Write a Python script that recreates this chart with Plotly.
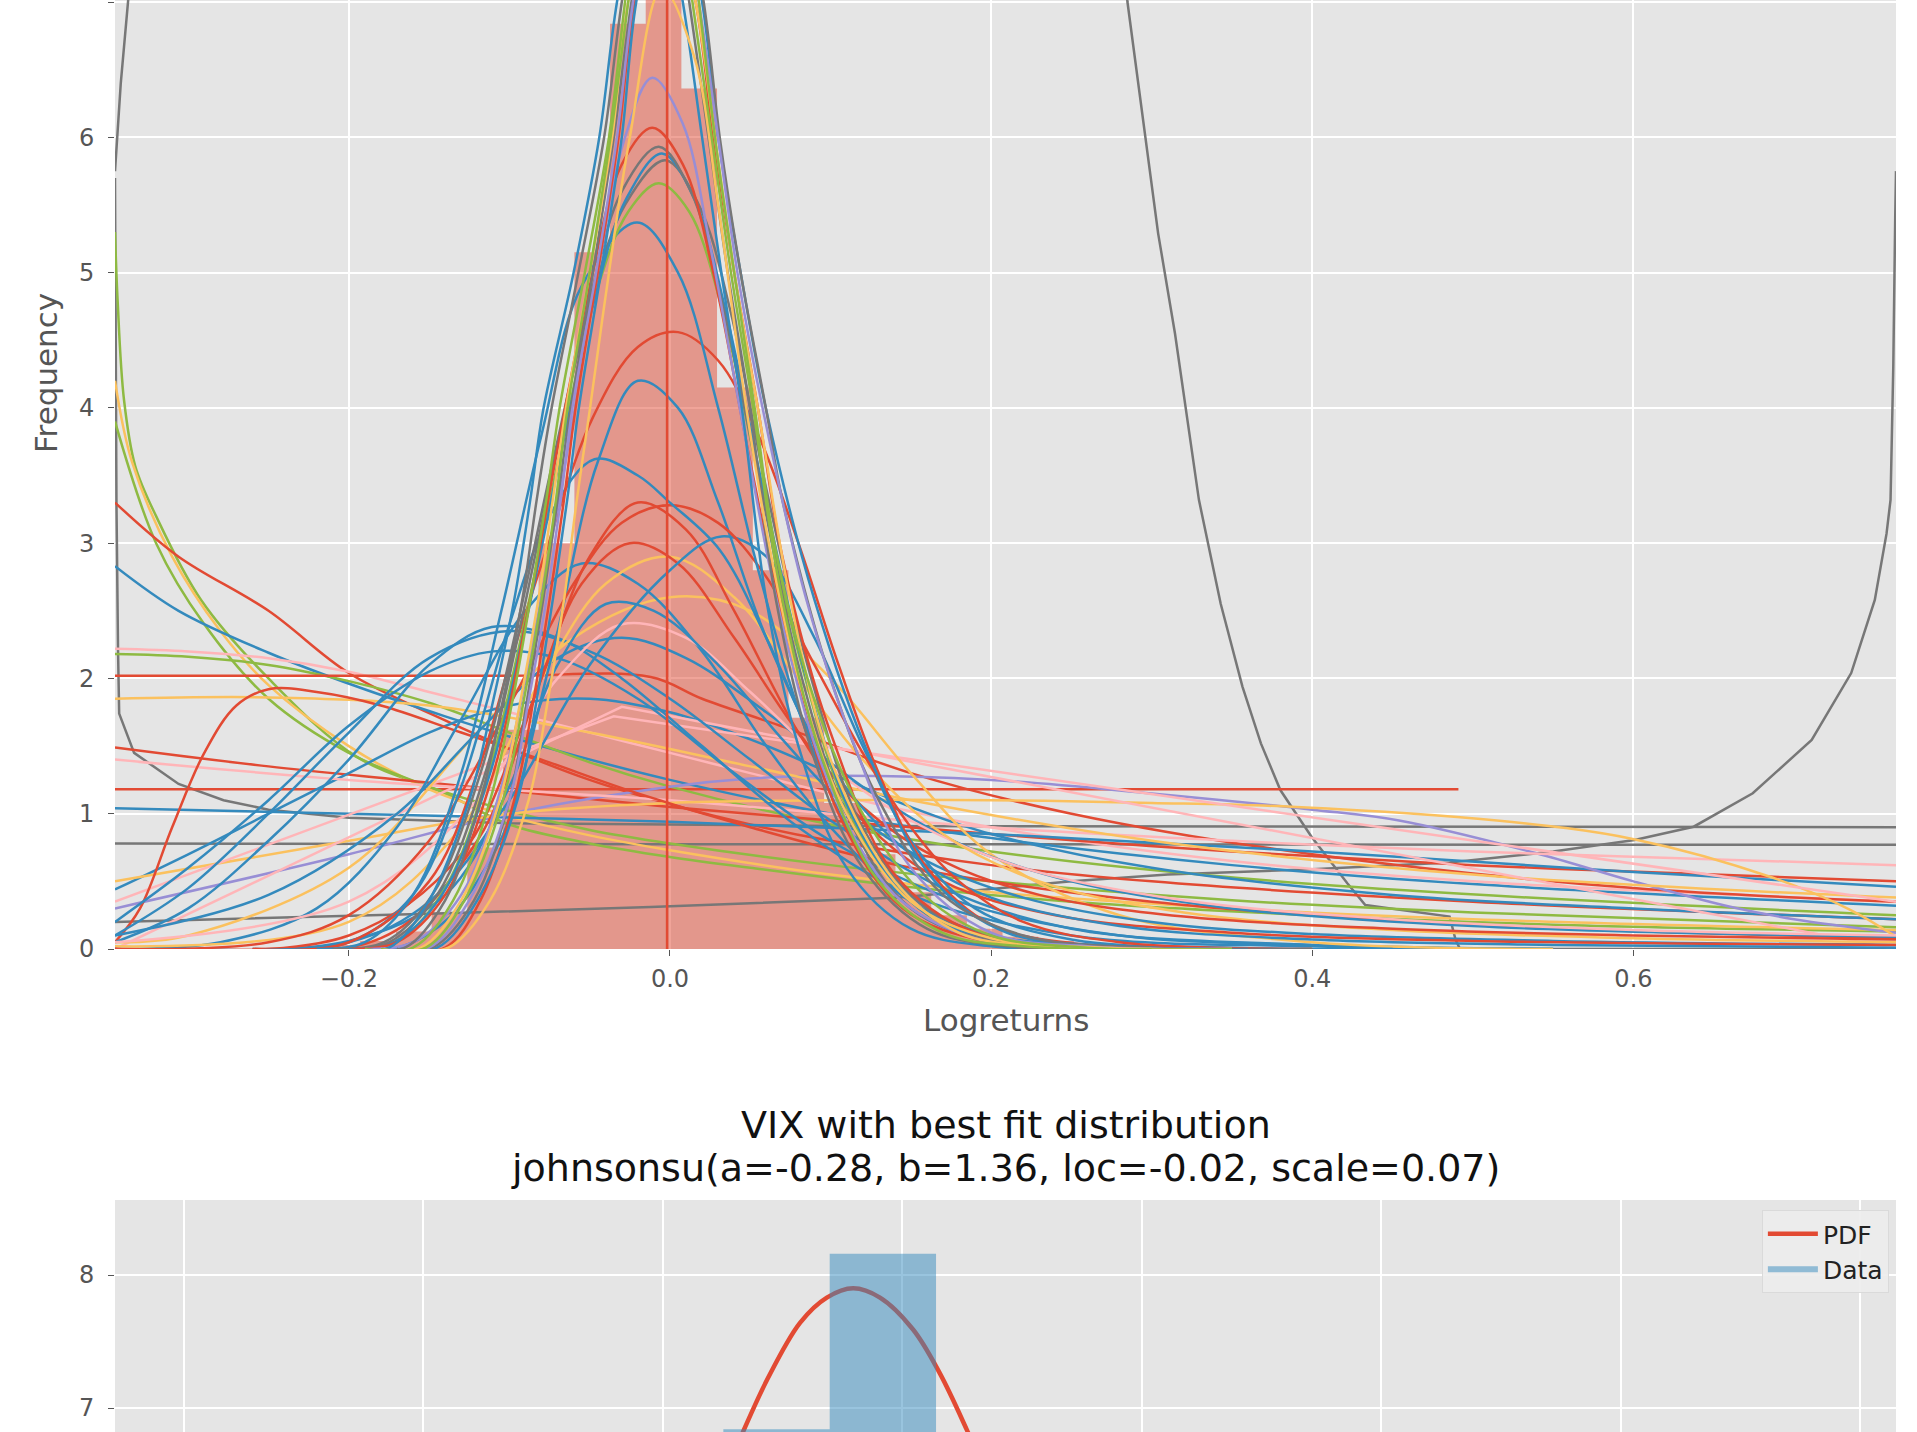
import plotly.graph_objects as go

# ggplot-style colour cycle
RED = "#E24A33"
BLUE = "#348ABD"
PURPLE = "#988ED5"
GRAY = "#777777"
YELLOW = "#FBC15E"
GREEN = "#8EBA42"
PINK = "#FFB5B8"

# ---------------- histogram of VIX daily log returns (density, 50 bins) ----------------
bin_edges = [
    -0.3484, -0.3262, -0.3040, -0.2817, -0.2595, -0.2373, -0.2151, -0.1929, -0.1706, -0.1484,
    -0.1262, -0.1040, -0.0818, -0.0595, -0.0373, -0.0151, 0.0071, 0.0293, 0.0516, 0.0738,
    0.0960, 0.1182, 0.1404, 0.1627, 0.1849, 0.2071, 0.2293, 0.2515, 0.2738, 0.2960,
    0.3182, 0.3404, 0.3626, 0.3849, 0.4071, 0.4293, 0.4515, 0.4737, 0.4960, 0.5182,
    0.5404, 0.5626, 0.5848, 0.6071, 0.6293, 0.6515, 0.6737, 0.6959, 0.7182, 0.7404,
    0.7626,
]
vix_density = [
    0.006, 0.0, 0.006, 0.006, 0.013, 0.02, 0.03, 0.06, 0.13, 0.27,
    0.75, 1.62, 3.0, 5.15, 6.84, 8.16, 6.36, 4.15, 2.8, 1.71,
    1.08, 0.7, 0.42, 0.25, 0.15, 0.09, 0.06, 0.04, 0.03, 0.02,
    0.013, 0.01, 0.006, 0.006, 0.0, 0.006, 0.0, 0.0, 0.006, 0.0,
    0.0, 0.0, 0.006, 0.0, 0.0, 0.0, 0.0, 0.0, 0.0, 0.006,
]

# ---------------- candidate distribution PDFs (x, density) ----------------
# tall, narrow fits (peaks above the visible range)
fit_b1 = [(-0.20, 0.0), (-0.175, 0.01), (-0.15, 0.36), (-0.125, 1.1), (-0.11, 1.84), (-0.097, 2.58),
          (-0.087, 3.32), (-0.079, 3.98), (-0.06, 5.0), (-0.044, 6.0), (-0.033, 7.0), (-0.012, 8.3),
          (0.008, 7.0), (0.02, 6.0), (0.032, 5.0), (0.045, 3.98), (0.06, 2.58), (0.08, 1.5),
          (0.11, 0.6), (0.15, 0.15), (0.2, 0.02), (0.3, 0.0)]
fit_b2 = [(-0.19, 0.0), (-0.165, 0.01), (-0.14, 0.36), (-0.118, 1.1), (-0.104, 1.84), (-0.092, 2.58),
          (-0.083, 3.32), (-0.074, 3.98), (-0.057, 5.0), (-0.041, 6.0), (-0.03, 7.0), (-0.008, 8.6),
          (0.012, 7.0), (0.024, 6.0), (0.036, 5.0), (0.05, 3.98), (0.066, 2.58), (0.09, 1.4),
          (0.12, 0.6), (0.16, 0.15), (0.21, 0.02), (0.3, 0.0)]
fit_b3 = [(-0.19, 0.0), (-0.16, 0.01), (-0.135, 0.36), (-0.112, 1.1), (-0.098, 1.84), (-0.087, 2.58),
          (-0.077, 3.32), (-0.069, 3.98), (-0.053, 5.0), (-0.038, 6.0), (-0.028, 7.0), (-0.008, 8.9),
          (0.014, 7.0), (0.026, 6.0), (0.038, 5.0), (0.052, 3.98), (0.068, 2.7), (0.095, 1.4),
          (0.13, 0.5), (0.17, 0.12), (0.22, 0.02), (0.3, 0.0)]
fit_b4 = [(-0.18, 0.0), (-0.155, 0.01), (-0.13, 0.36), (-0.106, 1.1), (-0.093, 1.84), (-0.082, 2.58),
          (-0.073, 3.32), (-0.065, 3.98), (-0.05, 5.0), (-0.036, 6.0), (-0.026, 7.0), (-0.004, 8.0),
          (0.016, 7.0), (0.028, 6.0), (0.04, 5.0), (0.055, 3.98), (0.075, 2.58), (0.1, 1.4),
          (0.14, 0.5), (0.18, 0.12), (0.23, 0.02), (0.3, 0.0)]
fit_b5 = [(-0.18, 0.0), (-0.15, 0.01), (-0.125, 0.36), (-0.1, 1.1), (-0.088, 1.84), (-0.077, 2.58),
          (-0.068, 3.32), (-0.061, 3.98), (-0.046, 5.0), (-0.033, 6.0), (-0.023, 7.0), (-0.002, 8.4),
          (0.018, 7.0), (0.03, 6.0), (0.042, 5.0), (0.058, 3.98), (0.085, 2.58), (0.115, 1.5),
          (0.15, 0.6), (0.2, 0.12), (0.26, 0.02), (0.35, 0.0)]
fit_b6 = [(-0.17, 0.0), (-0.145, 0.01), (-0.12, 0.36), (-0.095, 1.1), (-0.083, 1.84), (-0.073, 2.58),
          (-0.064, 3.32), (-0.057, 3.98), (-0.043, 5.0), (-0.03, 6.0), (-0.021, 7.0), (0.0, 8.1),
          (0.02, 7.0), (0.03, 6.0), (0.044, 5.0), (0.06, 3.98), (0.09, 2.58), (0.125, 1.4),
          (0.165, 0.5), (0.21, 0.12), (0.28, 0.02), (0.36, 0.0)]
fit_b7 = [(-0.16, 0.0), (-0.138, 0.01), (-0.112, 0.36), (-0.088, 1.1), (-0.076, 1.84), (-0.066, 2.58),
          (-0.058, 3.32), (-0.05, 3.98), (-0.038, 5.0), (-0.025, 6.0), (-0.005, 7.1), (0.015, 6.6),
          (0.03, 5.5), (0.045, 4.2), (0.06, 3.1), (0.08, 2.0), (0.11, 1.0), (0.15, 0.35),
          (0.2, 0.08), (0.27, 0.01), (0.35, 0.0)]
fit_b8 = [(-0.17, 0.0), (-0.14, 0.01), (-0.118, 0.36), (-0.097, 1.1), (-0.085, 1.84), (-0.075, 2.58),
          (-0.066, 3.32), (-0.059, 3.98), (-0.045, 5.0), (-0.032, 6.0), (-0.022, 7.0), (-0.003, 7.9),
          (0.016, 7.0), (0.027, 6.0), (0.04, 5.0), (0.055, 3.98), (0.07, 2.9), (0.1, 1.6),
          (0.14, 0.55), (0.19, 0.12), (0.26, 0.02), (0.35, 0.0)]
fit_b9 = [(-0.17, 0.0), (-0.148, 0.01), (-0.122, 0.36), (-0.1, 1.1), (-0.089, 1.84), (-0.079, 2.58),
          (-0.07, 3.32), (-0.062, 3.98), (-0.048, 5.0), (-0.035, 6.0), (-0.024, 7.0), (-0.003, 8.6),
          (0.021, 7.0), (0.031, 6.0), (0.044, 5.0), (0.06, 3.98), (0.07, 3.32), (0.1, 2.0),
          (0.13, 1.1), (0.17, 0.4), (0.22, 0.1), (0.3, 0.01), (0.4, 0.0)]
fit_b10 = [(-0.18, 0.0), (-0.152, 0.01), (-0.128, 0.36), (-0.104, 1.1), (-0.091, 1.84), (-0.08, 2.58),
           (-0.071, 3.32), (-0.064, 3.98), (-0.05, 5.0), (-0.037, 6.0), (-0.026, 7.0), (-0.004, 9.0),
           (0.018, 7.0), (0.028, 6.0), (0.04, 5.0), (0.053, 3.98), (0.065, 3.0), (0.09, 1.84),
           (0.12, 1.0), (0.16, 0.38), (0.2, 0.1), (0.26, 0.01), (0.35, 0.0)]

# medium fits with visible peaks
fit_m1 = [(-0.19, 0.0), (-0.16, 0.05), (-0.13, 0.4), (-0.105, 1.2), (-0.085, 2.3), (-0.065, 3.6),
          (-0.045, 5.0), (-0.028, 6.0), (-0.011, 6.44), (0.008, 6.1), (0.025, 5.2), (0.045, 3.9),
          (0.07, 2.4), (0.1, 1.2), (0.14, 0.4), (0.19, 0.08), (0.26, 0.01), (0.35, 0.0)]
fit_m2 = [(-0.2, 0.0), (-0.17, 0.05), (-0.14, 0.4), (-0.11, 1.3), (-0.09, 2.4), (-0.07, 3.7),
          (-0.05, 4.9), (-0.03, 5.8), (-0.011, 6.07), (0.008, 5.8), (0.027, 5.0), (0.05, 3.6),
          (0.075, 2.2), (0.105, 1.0), (0.145, 0.3), (0.2, 0.05), (0.3, 0.0)]
fit_m3 = [(-0.2, 0.0), (-0.175, 0.05), (-0.145, 0.4), (-0.115, 1.3), (-0.093, 2.4), (-0.072, 3.6),
          (-0.05, 4.8), (-0.03, 5.6), (-0.007, 5.93), (0.013, 5.6), (0.032, 4.8), (0.055, 3.5),
          (0.08, 2.1), (0.11, 1.0), (0.15, 0.3), (0.21, 0.04), (0.3, 0.0)]
fit_m4 = [(-0.2, 0.0), (-0.172, 0.05), (-0.142, 0.4), (-0.112, 1.3), (-0.09, 2.4), (-0.069, 3.6),
          (-0.047, 4.8), (-0.027, 5.55), (-0.005, 5.88), (0.015, 5.55), (0.035, 4.7), (0.058, 3.4),
          (0.085, 2.0), (0.115, 0.95), (0.155, 0.3), (0.21, 0.04), (0.3, 0.0)]
fit_m5 = [(-0.21, 0.0), (-0.178, 0.05), (-0.148, 0.4), (-0.118, 1.3), (-0.095, 2.4), (-0.073, 3.6),
          (-0.05, 4.75), (-0.028, 5.5), (-0.003, 5.83), (0.018, 5.5), (0.038, 4.7), (0.06, 3.4),
          (0.088, 2.0), (0.12, 0.9), (0.16, 0.3), (0.22, 0.04), (0.3, 0.0)]
fit_m6 = [(-0.2, 0.0), (-0.17, 0.06), (-0.14, 0.45), (-0.112, 1.35), (-0.09, 2.45), (-0.068, 3.7),
          (-0.046, 4.85), (-0.026, 5.45), (-0.007, 5.66), (0.012, 5.45), (0.032, 4.75), (0.055, 3.5),
          (0.082, 2.1), (0.112, 1.0), (0.15, 0.35), (0.2, 0.06), (0.3, 0.0)]
fit_m7 = [(-0.22, 0.0), (-0.19, 0.05), (-0.16, 0.4), (-0.13, 1.3), (-0.105, 2.5), (-0.08, 3.8),
          (-0.055, 4.9), (-0.0205, 5.37), (0.005, 5.0), (0.03, 4.0), (0.055, 2.8), (0.085, 1.6),
          (0.12, 0.7), (0.16, 0.22), (0.22, 0.03), (0.3, 0.0)]
fit_m8 = [(-0.26, 0.0), (-0.2, 0.05), (-0.15, 0.5), (-0.12, 1.3), (-0.1, 2.1), (-0.077, 2.95),
          (-0.048, 3.93), (-0.02, 4.45), (0.005, 4.56), (0.03, 4.35), (0.055, 3.8), (0.08, 3.0),
          (0.105, 2.1), (0.13, 1.3), (0.16, 0.6), (0.2, 0.18), (0.26, 0.03), (0.35, 0.0)]
fit_m9 = [(-0.26, 0.0), (-0.2, 0.05), (-0.16, 0.4), (-0.13, 1.2), (-0.1, 2.4), (-0.075, 3.2),
          (-0.047, 3.62), (-0.02, 3.5), (0.0, 3.3), (0.031, 2.95), (0.06, 2.3), (0.09, 1.5),
          (0.12, 0.8), (0.16, 0.3), (0.2, 0.1), (0.26, 0.02), (0.35, 0.0)]
fit_m10 = [(-0.3456, 0.0), (-0.25, 0.05), (-0.2, 0.25), (-0.15, 0.8), (-0.1, 1.8), (-0.06, 2.7),
           (-0.03, 3.15), (0.0, 3.28), (0.03, 3.15), (0.06, 2.75), (0.09, 2.1), (0.12, 1.45),
           (0.15, 0.9), (0.18, 0.5), (0.22, 0.2), (0.28, 0.05), (0.4, 0.0)]
fit_m11 = [(-0.3, 0.0), (-0.2, 0.05), (-0.15, 0.35), (-0.1, 1.1), (-0.05, 2.1), (0.0, 2.8),
           (0.032, 3.05), (0.06, 2.9), (0.09, 2.3), (0.12, 1.5), (0.15, 0.8), (0.19, 0.3),
           (0.25, 0.07), (0.35, 0.01), (0.45, 0.0)]
fit_m12 = [(-0.3456, 0.0), (-0.28, 0.05), (-0.22, 0.3), (-0.17, 0.9), (-0.13, 1.7), (-0.09, 2.5),
           (-0.055, 2.85), (-0.02, 2.7), (0.02, 2.2), (0.06, 1.5), (0.1, 0.9), (0.15, 0.35),
           (0.2, 0.1), (0.28, 0.02), (0.4, 0.0)]
fit_m13 = [(-0.3456, 0.05), (-0.3, 0.1), (-0.2, 0.6), (-0.12, 1.6), (-0.06, 2.3), (0.0, 2.6),
           (0.05, 2.5), (0.1, 2.0), (0.15, 1.3), (0.2, 0.7), (0.28, 0.25), (0.4, 0.05), (0.55, 0.0)]
fit_m14 = [(-0.3456, 0.05), (-0.3, 0.3), (-0.25, 0.8), (-0.2, 1.4), (-0.15, 2.1), (-0.111, 2.38),
           (-0.07, 2.3), (-0.03, 2.0), (0.02, 1.5), (0.08, 0.9), (0.15, 0.4), (0.25, 0.1),
           (0.4, 0.02), (0.55, 0.0)]
fit_m15 = [(-0.3456, 0.1), (-0.3, 0.45), (-0.25, 1.0), (-0.2, 1.6), (-0.15, 2.15), (-0.1, 2.35),
           (-0.05, 2.2), (0.0, 1.85), (0.05, 1.4), (0.1, 0.95), (0.17, 0.45), (0.25, 0.15),
           (0.4, 0.03), (0.55, 0.0)]
fit_m16 = [(-0.3456, 0.2), (-0.3, 0.6), (-0.25, 1.1), (-0.2, 1.65), (-0.15, 2.05), (-0.11, 2.2),
           (-0.07, 2.15), (-0.02, 1.85), (0.04, 1.3), (0.1, 0.8), (0.18, 0.35), (0.28, 0.1),
           (0.4, 0.03), (0.55, 0.0)]
fit_m17 = [(-0.3456, 0.05), (-0.33, 0.3), (-0.31, 0.9), (-0.29, 1.45), (-0.27, 1.8), (-0.25, 1.92),
           (-0.22, 1.9), (-0.18, 1.8), (-0.13, 1.6), (-0.08, 1.4), (-0.02, 1.15), (0.05, 0.9),
           (0.15, 0.6), (0.3, 0.35), (0.5, 0.18), (0.7635, 0.08)]

# heavy right tails
fit_h1 = [(-0.3456, 0.0), (-0.2, 0.06), (-0.14, 0.4), (-0.1, 1.2), (-0.07, 2.1), (-0.04, 2.55),
          (-0.01, 2.5), (0.03, 2.1), (0.07, 1.55), (0.11, 1.05), (0.16, 0.65), (0.22, 0.38),
          (0.3, 0.2), (0.4, 0.11), (0.55, 0.06), (0.7635, 0.03)]
fit_h2 = [(-0.3456, 0.0), (-0.16, 0.05), (-0.11, 0.7), (-0.075, 2.1), (-0.045, 3.6), (-0.02, 4.2),
          (0.005, 4.0), (0.03, 3.3), (0.06, 2.3), (0.1, 1.35), (0.15, 0.7), (0.2, 0.38),
          (0.28, 0.17), (0.4, 0.07), (0.55, 0.03), (0.7635, 0.01)]
fit_h3 = [(-0.3456, 0.0), (-0.2, 0.1), (-0.13, 0.7), (-0.09, 1.7), (-0.055, 2.7), (-0.025, 3.0),
          (0.005, 2.85), (0.04, 2.3), (0.08, 1.6), (0.12, 1.05), (0.17, 0.65), (0.23, 0.4),
          (0.32, 0.24), (0.45, 0.15), (0.6, 0.1), (0.7635, 0.07)]
fit_h4 = [(-0.3456, 0.02), (-0.2, 0.2), (-0.13, 0.9), (-0.08, 2.0), (-0.04, 2.7), (0.0, 2.9),
          (0.04, 2.6), (0.08, 2.0), (0.12, 1.4), (0.17, 0.85), (0.23, 0.5), (0.32, 0.27),
          (0.45, 0.14), (0.6, 0.08), (0.7635, 0.05)]
fit_h5 = [(-0.3456, 0.05), (-0.2, 0.35), (-0.12, 1.1), (-0.07, 2.0), (-0.03, 2.4), (0.01, 2.3),
          (0.05, 1.9), (0.1, 1.35), (0.15, 0.95), (0.22, 0.6), (0.32, 0.36), (0.45, 0.22),
          (0.6, 0.14), (0.7635, 0.1)]
fit_h6 = [(-0.3456, 0.1), (-0.25, 0.4), (-0.17, 1.0), (-0.12, 1.6), (-0.07, 2.15), (-0.03, 2.3),
          (0.01, 2.15), (0.06, 1.75), (0.12, 1.2), (0.18, 0.78), (0.25, 0.5), (0.35, 0.3),
          (0.5, 0.17), (0.7635, 0.09)]
fit_h7 = [(-0.3456, 0.0), (-0.18, 0.08), (-0.12, 0.8), (-0.08, 2.0), (-0.05, 2.9), (-0.02, 3.3),
          (0.01, 3.1), (0.04, 2.5), (0.08, 1.6), (0.12, 0.95), (0.17, 0.5), (0.24, 0.25),
          (0.35, 0.12), (0.5, 0.06), (0.7635, 0.03)]

# fits that are largest at the left edge
fit_d1 = [(-0.3456, 5.75), (-0.342, 6.4), (-0.336, 7.2), (-0.32, 9.5), (0.0, 14.0), (0.27, 9.0),
          (0.2849, 7.0), (0.304, 5.29), (0.3145, 4.55), (0.3294, 3.32), (0.343, 2.55),
          (0.3565, 1.94), (0.368, 1.52), (0.3801, 1.175), (0.3995, 0.83), (0.4218, 0.486),
          (0.433, 0.325), (0.46, 0.28), (0.4855, 0.24), (0.4892, 0.07), (0.492, 0.0), (0.7635, 0.0)]
fit_d2 = [(-0.3456, 5.7), (-0.3447, 3.3), (-0.3437, 2.2), (-0.343, 1.74), (-0.3337, 1.45),
          (-0.306, 1.22), (-0.278, 1.1), (-0.25, 1.03), (-0.2, 0.97), (-0.1, 0.93), (0.1, 0.91),
          (0.4, 0.905), (0.7635, 0.9)]
fit_d3 = [(-0.3456, 5.3), (-0.344, 4.8), (-0.34, 4.06), (-0.333, 3.57), (-0.32, 3.2), (-0.292, 2.58),
          (-0.25, 2.0), (-0.195, 1.42), (-0.14, 1.15), (-0.1, 0.92), (-0.05, 0.78), (0.0, 0.68),
          (0.05, 0.6), (0.14, 0.47), (0.25, 0.35), (0.4, 0.25), (0.55, 0.18), (0.7635, 0.13)]
fit_d4 = [(-0.3456, 4.2), (-0.335, 3.6), (-0.31, 2.9), (-0.28, 2.35), (-0.25, 1.95), (-0.2, 1.5),
          (-0.15, 1.18), (-0.1, 0.98), (-0.05, 0.84), (0.0, 0.73), (0.1, 0.55), (0.2, 0.42),
          (0.35, 0.3), (0.5, 0.22), (0.7635, 0.14)]
fit_d5 = [(-0.3456, 3.9), (-0.32, 3.0), (-0.29, 2.4), (-0.25, 1.85), (-0.2, 1.45), (-0.15, 1.2),
          (-0.1, 1.02), (-0.05, 0.88), (0.0, 0.78), (0.1, 0.62), (0.2, 0.5), (0.35, 0.36),
          (0.5, 0.27), (0.7635, 0.16)]
fit_d6 = [(-0.3456, 3.3), (-0.306, 2.9), (-0.25, 2.5), (-0.2, 2.04), (-0.14, 1.69), (-0.1, 1.48),
          (-0.05, 1.25), (0.0, 1.07), (0.05, 0.92), (0.1, 0.8), (0.2, 0.62), (0.3, 0.5),
          (0.5, 0.35), (0.7635, 0.22)]
fit_d7 = [(-0.3456, 2.83), (-0.306, 2.5), (-0.25, 2.19), (-0.195, 1.94), (-0.14, 1.72), (-0.08, 1.5),
          (0.0, 1.25), (0.1, 1.0), (0.2, 0.82), (0.35, 0.62), (0.5, 0.48), (0.7635, 0.32)]
fit_d8 = [(-0.3456, 2.22), (-0.3, 2.2), (-0.25, 2.15), (-0.2, 2.05), (-0.15, 1.9), (-0.1, 1.75),
          (-0.05, 1.6), (0.0, 1.45), (0.05, 1.3), (0.1, 1.15), (0.2, 0.9), (0.35, 0.65),
          (0.5, 0.5), (0.7635, 0.35)]
fit_d9 = [(-0.3456, 2.18), (-0.3, 2.16), (-0.25, 2.1), (-0.2, 1.98), (-0.15, 1.82), (-0.1, 1.6),
          (-0.05, 1.38), (0.0, 1.2), (0.1, 0.92), (0.2, 0.72), (0.4, 0.48), (0.7635, 0.25)]
fit_d10 = [(-0.3456, 2.02), (-0.2, 2.02), (-0.1, 2.02), (-0.012, 2.01), (0.02, 1.85), (0.071, 1.64),
           (0.15, 1.3), (0.25, 1.0), (0.4, 0.7), (0.6, 0.45), (0.7635, 0.35)]
fit_d11 = [(-0.3456, 1.49), (-0.25, 1.35), (-0.167, 1.25), (-0.1, 1.17), (0.0, 1.05), (0.1, 0.95),
           (0.2, 0.85), (0.35, 0.72), (0.5, 0.62), (0.65, 0.55), (0.7635, 0.5)]
fit_uniform = [(-0.3456, 1.18), (0.491, 1.18)]
fit_d13 = [(-0.3456, 1.04), (-0.2, 1.0), (0.0, 0.94), (0.2, 0.85), (0.4, 0.72), (0.6, 0.57),
           (0.7635, 0.46)]
fit_d14 = [(-0.3456, 0.44), (-0.3, 0.7), (-0.25, 1.0), (-0.2, 1.3), (-0.15, 1.6), (-0.1, 1.8),
           (-0.05, 1.85), (0.0, 1.75), (0.05, 1.55), (0.1, 1.3), (0.15, 1.05), (0.2, 0.85),
           (0.3, 0.6), (0.45, 0.4), (0.6, 0.3), (0.7635, 0.22)]
fit_d15 = [(-0.3456, 0.78), (0.0, 0.775), (0.7635, 0.77)]

# rising toward the right edge
fit_g2 = [(-0.3456, 0.2), (-0.15, 0.26), (-0.012, 0.31), (0.143, 0.38), (0.25, 0.5), (0.31, 0.55),
          (0.4, 0.59), (0.4855, 0.64), (0.55, 0.72), (0.6007, 0.806), (0.6375, 0.904),
          (0.6743, 1.151), (0.711, 1.545), (0.7356, 2.04), (0.7503, 2.58), (0.7576, 3.07),
          (0.7601, 3.32), (0.7618, 4.3), (0.7630, 5.4), (0.7635, 5.75)]

# broad fits
fit_p1 = [(-0.3456, 0.3), (-0.2, 0.7), (-0.1, 1.0), (0.0, 1.2), (0.05, 1.26), (0.1, 1.28),
          (0.2, 1.25), (0.3, 1.15), (0.4, 1.03), (0.454, 0.95), (0.539, 0.71), (0.6, 0.5),
          (0.661, 0.31), (0.7, 0.22), (0.7635, 0.12)]
fit_p2 = [(-0.3456, 1.4), (-0.2, 1.25), (0.0, 1.1), (0.2, 0.9), (0.35, 0.8), (0.5, 0.72),
          (0.7635, 0.62)]
fit_y1 = [(-0.3456, 0.5), (-0.2, 0.8), (-0.1, 1.0), (0.0, 1.08), (0.1, 1.1), (0.2, 1.1),
          (0.3, 1.08), (0.39, 1.05), (0.515, 0.95), (0.601, 0.81), (0.686, 0.53), (0.735, 0.29),
          (0.7635, 0.09)]
fit_y2 = [(-0.3456, 1.85), (-0.25, 1.86), (-0.15, 1.8), (-0.05, 1.6), (0.05, 1.35), (0.15, 1.1),
          (0.3, 0.8), (0.5, 0.55), (0.7635, 0.38)]
fit_tri1 = [(-0.3456, 0.0), (-0.03, 1.79), (0.7635, 0.0)]
fit_tri2 = [(-0.3456, 0.35), (-0.035, 1.72), (0.7635, 0.35)]

# degenerate spike fit
fit_spike = [(-0.0018, 0.0), (-0.0018, 60.0)]

# ---------------- best fit (johnsonsu) PDF ----------------
best_pdf_x = [-0.16, -0.12, -0.08, -0.06, -0.05, -0.04, -0.0332, -0.0282, -0.0213, -0.0157,
              -0.0102, -0.0046, 0.0023, 0.0079, 0.0136, 0.02, 0.03, 0.05, 0.08, 0.12, 0.16, 0.2]
best_pdf_y = [0.3, 0.8, 2.1, 3.6, 5.2, 6.25, 6.82, 7.21, 7.64, 7.83,
              7.90, 7.83, 7.59, 7.26, 6.83, 6.3, 5.4, 3.8, 2.1, 0.95, 0.45, 0.22]

# tick labels
top_x_ticks = [-0.2, 0.0, 0.2, 0.4, 0.6]
top_x_tick_labels = ["\u22120.2", "0.0", "0.2", "0.4", "0.6"]
bottom_x_ticks = [-0.15, -0.10, -0.05, 0.0, 0.05, 0.10, 0.15, 0.20]

top_curves = [
    (fit_d1, GRAY, "linear"), (fit_d2, GRAY, "linear"), (fit_d15, GRAY, "linear"),
    (fit_g2, GRAY, "linear"), (fit_uniform, RED, "linear"),
    (fit_d3, GREEN, "spline"), (fit_d4, YELLOW, "spline"), (fit_d5, GREEN, "spline"),
    (fit_d6, RED, "spline"), (fit_d7, BLUE, "spline"), (fit_d8, PINK, "spline"),
    (fit_d9, GREEN, "spline"), (fit_d10, RED, "spline"), (fit_d11, RED, "spline"),
    (fit_d13, BLUE, "spline"), (fit_d14, BLUE, "spline"),
    (fit_p1, PURPLE, "spline"), (fit_p2, PINK, "spline"), (fit_y1, YELLOW, "spline"),
    (fit_y2, YELLOW, "spline"), (fit_tri1, PINK, "linear"), (fit_tri2, PINK, "linear"),
    (fit_m17, RED, "spline"), (fit_m16, BLUE, "spline"), (fit_m15, BLUE, "spline"),
    (fit_m14, BLUE, "spline"), (fit_m13, YELLOW, "spline"), (fit_m12, BLUE, "spline"),
    (fit_h6, BLUE, "spline"), (fit_h5, PINK, "spline"), (fit_h1, BLUE, "spline"),
    (fit_h4, YELLOW, "spline"), (fit_h3, RED, "spline"), (fit_h7, RED, "spline"),
    (fit_h2, BLUE, "spline"), (fit_m11, BLUE, "spline"), (fit_m10, RED, "spline"),
    (fit_m9, BLUE, "spline"), (fit_m8, RED, "spline"), (fit_m7, BLUE, "spline"),
    (fit_m6, GREEN, "spline"), (fit_m5, GRAY, "spline"), (fit_m4, BLUE, "spline"),
    (fit_m3, GRAY, "spline"), (fit_m2, RED, "spline"), (fit_m1, PURPLE, "spline"),
    (fit_b1, BLUE, "spline"), (fit_b2, GRAY, "spline"), (fit_b8, RED, "spline"),
    (fit_b6, BLUE, "spline"), (fit_b9, GRAY, "spline"), (fit_b5, PURPLE, "spline"),
    (fit_b7, YELLOW, "spline"), (fit_b4, YELLOW, "spline"), (fit_b10, GREEN, "spline"),
    (fit_b3, GREEN, "spline"), (fit_spike, RED, "linear"),
]


def histogram_outline(edges, heights):
    """Closed step outline of a histogram, drawn as a filled polygon."""
    xs, ys = [edges[0]], [0.0]
    for left, right, h in zip(edges[:-1], edges[1:], heights):
        xs += [left, right]
        ys += [h, h]
    xs += [edges[-1], edges[0]]
    ys += [0.0, 0.0]
    return xs, ys


hist_x, hist_y = histogram_outline(bin_edges, vix_density)

fig = go.Figure()

# upper panel: histogram + every candidate fit
fig.add_trace(go.Scatter(
    x=hist_x, y=hist_y, mode="none", fill="toself",
    fillcolor="rgba(226,74,51,0.5)", showlegend=False, hoverinfo="skip",
    xaxis="x", yaxis="y",
))
for pts, color, shape in top_curves:
    fig.add_trace(go.Scatter(
        x=[p[0] for p in pts], y=[p[1] for p in pts], mode="lines",
        line=dict(color=color, width=2.5, shape=shape),
        showlegend=False, hoverinfo="skip", xaxis="x", yaxis="y",
    ))

# lower panel: best fit PDF with the data histogram on top
fig.add_trace(go.Scatter(
    x=best_pdf_x, y=best_pdf_y, mode="lines", name="PDF",
    line=dict(color=RED, width=4.5, shape="spline"),
    xaxis="x2", yaxis="y2",
))
fig.add_trace(go.Scatter(
    x=hist_x, y=hist_y, mode="none", fill="toself", name="Data",
    fillcolor="rgba(52,138,189,0.5)", xaxis="x2", yaxis="y2",
))

axis_common = dict(
    showgrid=True, gridcolor="white", gridwidth=1.8, zeroline=False, showline=False,
    automargin=False,
    ticks="outside", ticklen=6, tickwidth=1.3, tickcolor="#555555",
    tickfont=dict(family="DejaVu Sans", size=24, color="#555555"),
)

fig.update_layout(
    width=1917, height=1432,
    margin=dict(l=115, r=21, t=0, b=0, pad=0, autoexpand=False),
    paper_bgcolor="white", plot_bgcolor="#E5E5E5",
    font=dict(family="DejaVu Sans", color="#555555", size=24),
    hovermode=False,
    xaxis=dict(domain=[0, 1], anchor="y", range=[-0.3456, 0.7635],
               tickvals=top_x_ticks, ticktext=top_x_tick_labels,
               ticklabelstandoff=2, **axis_common),
    yaxis=dict(domain=[1 - 949 / 1432, 1], anchor="x", range=[0, 7.015],
               tick0=0, dtick=1, ticklabelstandoff=9, **axis_common),
    xaxis2=dict(domain=[0, 1], anchor="y2", range=[-0.1643, 0.2075],
                tickvals=bottom_x_ticks, showticklabels=False, **axis_common),
    yaxis2=dict(domain=[0, 1 - 1200 / 1432], anchor="x2", range=[6.8195, 8.564],
                tick0=0, dtick=1, ticklabelstandoff=9, **axis_common),
    legend=dict(
        x=0.996, y=1 - 1210 / 1432, xanchor="right", yanchor="top",
        bgcolor="rgba(236,236,236,0.9)", bordercolor="#DADADA", borderwidth=1,
        font=dict(family="DejaVu Sans", size=25, color="#222222"),
        itemwidth=50, tracegroupgap=4,
    ),
    annotations=[
        dict(text="Frequency", x=(46 - 115) / 1781, y=1 - 373 / 1432, xref="paper", yref="paper",
             textangle=-90, showarrow=False, xanchor="center", yanchor="middle",
             font=dict(family="DejaVu Sans", size=31, color="#555555")),
        dict(text="Logreturns", x=0.5, y=1 - 1020 / 1432, xref="paper", yref="paper",
             showarrow=False, xanchor="center", yanchor="middle",
             font=dict(family="DejaVu Sans", size=31, color="#555555")),
        dict(text="VIX with best fit distribution", x=0.5, y=1 - 1125 / 1432,
             xref="paper", yref="paper", showarrow=False, xanchor="center", yanchor="middle",
             font=dict(family="DejaVu Sans", size=38, color="#111111")),
        dict(text="johnsonsu(a=-0.28, b=1.36, loc=-0.02, scale=0.07)", x=0.5, y=1 - 1168 / 1432,
             xref="paper", yref="paper", showarrow=False, xanchor="center", yanchor="middle",
             font=dict(family="DejaVu Sans", size=38, color="#111111")),
    ],
)

fig.write_html("out.html", include_plotlyjs=True, config={"displayModeBar": False})
